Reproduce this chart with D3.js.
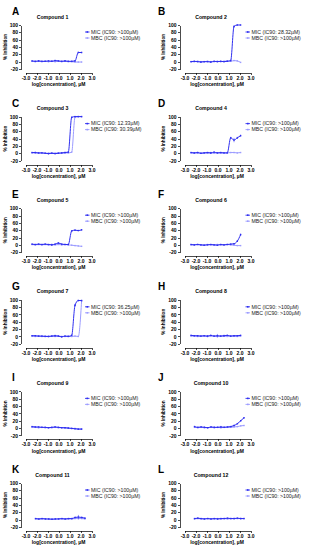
<!DOCTYPE html>
<html>
<head>
<meta charset="utf-8">
<script src="https://cdnjs.cloudflare.com/ajax/libs/d3/7.8.5/d3.min.js"></script>
<style>
body { margin: 0; background: #fff; }
svg { display: block; font-family: "Liberation Sans", Arial, sans-serif; }
.axis path, .axis line { stroke: #000; stroke-width: 0.7; shape-rendering: crispEdges; }
.axis text { font-size: 5px; font-weight: bold; fill: #000; }
.letter { font-size: 10px; font-weight: bold; }
.title { font-size: 5.2px; font-weight: bold; }
.xTitle { font-size: 5px; font-weight: bold; }
.yTitle { font-size: 4.6px; font-weight: bold; }
.legendText { font-size: 5.2px; fill: #222; }
</style>
</head>
<body>
<script>
(function (){

    //pseudo-global variables
    var panelLetters = ["A", "B", "C", "D", "E", "F", "G", "H", "I", "J", "K", "L"];
    var compoundNames = ["Compound 1", "Compound 2", "Compound 3", "Compound 4", "Compound 5", "Compound 6",
        "Compound 7", "Compound 8", "Compound 9", "Compound 10", "Compound 11", "Compound 12"];
    var micLabels = ["MIC (IC90: >100µM)", "MIC (IC90: 28.32µM)", "MIC (IC90: 12.33µM)", "MIC (IC90: >100µM)",
        "MIC (IC90: >100µM)", "MIC (IC90: >100µM)", "MIC (IC90: 36.25µM)", "MIC (IC90: >100µM)",
        "MIC (IC90: >100µM)", "MIC (IC90: >100µM)", "MIC (IC90: >100µM)", "MIC (IC90: >100µM)"];
    var mbcLabels = ["MBC (IC90: >100µM)", "MBC (IC90: >100µM)", "MBC (IC90: 30.39µM)", "MBC (IC90: >100µM)",
        "MBC (IC90: >100µM)", "MBC (IC90: >100µM)", "MBC (IC90: >100µM)", "MBC (IC90: >100µM)",
        "MBC (IC90: >100µM)", "MBC (IC90: >100µM)", "MBC (IC90: >100µM)", "MBC (IC90: >100µM)"];

    var yTicks = [100, 80, 60, 40, 20, 0, -20];
    var xTicks = [-3, -2, -1, 0, 1, 2, 3];

    //log concentrations (µM), two dilution series
    var logConcLow = [-2.41, -2.11, -1.81, -1.51, -1.21, -0.91, -0.61, -0.31, -0.01, 0.29, 0.59, 0.89, 1.20, 1.50, 1.80, 2.10];
    var logConcHigh = [-2.09, -1.79, -1.49, -1.19, -0.89, -0.59, -0.29, 0.01, 0.31, 0.61, 0.91, 1.21, 1.51, 1.81, 2.11, 2.41];
    var concSeries = [0, 0, 0, 0, 0, 0, 0, 0, 0, 1, 1, 1];

    //% inhibition, MIC
    var micValues = [
        [2, 1, 2, 1, 1, 2, 1, 3, 2, 1, 2, 1, 1, 2, 25, 25],
        [0, 1, 0, -1, 0, 0, -1, 1, 0, 1, 0, 1, 3, 96, 100, 100],
        [2, 2, 1, 1, 0, -1, 0, -1, 0, 1, 2, 3, 98, 100, 100, 100],
        [2, 1, 2, 0, 1, 2, 1, 3, 1, 2, 1, 1, 42, 36, 42, 48],
        [2, 1, 2, 1, 2, 1, 0, 2, 5, 2, 1, 1, 38, 40, 39, 41],
        [1, 0, 1, 0, -1, 0, 1, 0, -1, 1, 0, 1, 2, 3, 10, 28],
        [2, 2, 1, 1, 0, 0, 1, 2, 1, -1, 1, 0, 3, 85, 98, 98],
        [3, 2, 2, 1, 2, 1, 3, 1, 2, 1, 2, 3, 1, 2, 2, 3],
        [4, 3, 3, 2, 2, 1, 2, 3, 2, 1, 1, 0, -1, -2, -3, -3],
        [4, 2, 3, 2, 1, 3, 2, 2, 3, 2, 3, 4, 7, 12, 20, 28],
        [3, 2, 3, 2, 2, 1, 2, 2, 3, 2, 3, 3, 6, 7, 6, 4],
        [3, 4, 3, 2, 3, 2, 3, 2, 3, 3, 4, 3, 3, 4, 3, 3]
    ];
    var micErrors = [
        [1, 1, 2, 1, 1, 1, 2, 2, 1, 1, 2, 1, 1, 2, 2, 2],
        [1, 1, 1, 2, 1, 1, 2, 1, 1, 1, 1, 1, 2, 3, 1, 1],
        [1, 2, 1, 1, 1, 2, 1, 1, 1, 1, 2, 1, 2, 1, 1, 1],
        [1, 1, 2, 1, 1, 1, 3, 1, 1, 1, 1, 1, 3, 6, 3, 3],
        [1, 1, 1, 1, 1, 1, 3, 1, 2, 1, 1, 1, 2, 2, 1, 2],
        [1, 1, 1, 1, 1, 1, 1, 1, 1, 1, 1, 1, 1, 2, 2, 3],
        [1, 1, 1, 1, 1, 2, 1, 3, 1, 1, 1, 1, 2, 4, 2, 2],
        [1, 1, 2, 1, 1, 3, 1, 1, 5, 1, 3, 1, 1, 2, 1, 1],
        [1, 1, 1, 1, 1, 1, 1, 1, 1, 1, 1, 1, 1, 1, 1, 1],
        [2, 1, 1, 2, 1, 1, 2, 1, 3, 1, 1, 1, 2, 2, 2, 2],
        [1, 1, 1, 1, 1, 1, 1, 1, 1, 1, 1, 1, 2, 6, 2, 2],
        [1, 2, 1, 1, 1, 1, 1, 2, 1, 1, 1, 1, 2, 1, 2, 1]
    ];

    //% inhibition, MBC
    var mbcValues = [
        [1, 0, 1, 0, 1, 0, 1, 0, 1, 0, 1, 0, 0, -1, -1, -1],
        [0, 0, 1, 0, 0, 1, 0, 0, 1, 0, 1, 2, 1, 3, 2, -2],
        [1, 1, 0, 1, 0, 0, 1, 0, 1, 0, 1, 1, 3, 98, 100, 100],
        [1, 0, 1, 0, 1, 0, 1, 0, 1, 0, 1, 1, 2, 2, 1, 2],
        [1, 0, 1, 0, 1, 0, 1, 0, 1, 0, 1, 0, -1, -2, -3, -4],
        [0, 0, 1, 0, 0, 1, 0, 0, 1, 0, 0, 1, 0, -1, -2, -2],
        [1, 0, 1, 0, 1, 0, 1, 0, 1, 0, 0, 1, 0, 1, 0, 97],
        [1, 1, 0, 1, 1, 0, 1, 1, 0, 1, 1, 0, 1, 1, 0, 1],
        [2, 2, 1, 2, 1, 1, 1, 2, 1, 1, 0, 0, -1, -1, -2, -2],
        [2, 1, 2, 1, 1, 2, 1, 2, 1, 2, 2, 2, 3, 4, 6, 7],
        [2, 1, 2, 2, 1, 2, 1, 2, 2, 1, 2, 2, 3, 3, 3, 2],
        [2, 3, 2, 2, 3, 2, 2, 3, 2, 3, 2, 3, 3, 3, 3, 3]
    ];

    var micColor = "#2f2ff0",
        mbcColor = "#9c9cff";

    //begin script when window loads
    window.onload = setPage();

    function setPage(){
        var width = 312,
            height = 550;

        var svg = d3.select("body")
            .append("svg")
            .attr("width", width)
            .attr("height", height);

        for (var i=0; i<panelLetters.length; i++){
            setPanel(svg, i);
        };
    };

    function setPanel(svg, i){
        var col = i % 2,
            row = Math.floor(i / 2),
            ox = col == 0 ? 0 : 158.5,
            oy = row * 91.6;

        var g = svg.append("g")
            .attr("transform", "translate(" + ox + "," + oy + ")");

        //scales
        var xScale = d3.scaleLinear()
            .domain([-3, 3])
            .range([25.5 + col * 0.5, 91.5 + col * 0.5]);

        var yScale = d3.scaleLinear()
            .domain([-20, 100])
            .range([69, 25]);

        //panel letter and title
        g.append("text")
            .attr("class", "letter")
            .attr("x", col == 0 ? 12 : -0.5)
            .attr("y", 15)
            .text(panelLetters[i]);

        g.append("text")
            .attr("class", "title")
            .attr("x", 52.5)
            .attr("y", 18.5)
            .attr("text-anchor", "middle")
            .text(compoundNames[i]);

        //axes
        var yAxis = d3.axisLeft(yScale)
            .tickValues(yTicks)
            .tickSize(2)
            .tickSizeOuter(0)
            .tickPadding(1)
            .tickFormat(function(d){ return String(d); });

        g.append("g")
            .attr("class", "axis")
            .attr("transform", "translate(21,0)")
            .call(yAxis);

        var xAxis = d3.axisBottom(xScale)
            .tickValues(xTicks)
            .tickSize(2)
            .tickSizeOuter(0)
            .tickPadding(1.5)
            .tickFormat(function(d){ return d.toFixed(1); });

        g.append("g")
            .attr("class", "axis")
            .attr("transform", "translate(0,73)")
            .call(xAxis);

        g.append("text")
            .attr("class", "xTitle")
            .attr("x", 58.5)
            .attr("y", 86.3)
            .attr("text-anchor", "middle")
            .text("log[concentration], µM");

        g.append("text")
            .attr("class", "yTitle")
            .attr("transform", "translate(" + (col == 0 ? 7 : 6) + ",47) rotate(-90)")
            .attr("text-anchor", "middle")
            .text("% Inhibition");

        //data series
        var conc = concSeries[i] == 0 ? logConcLow : logConcHigh;
        drawSeries(g, conc, mbcValues[i], null, mbcColor, xScale, yScale);
        drawSeries(g, conc, micValues[i], micErrors[i], micColor, xScale, yScale);

        //legend
        var legendX = col == 0 ? 85 : 87;
        var labels = [micLabels[i], mbcLabels[i]],
            colors = [micColor, mbcColor];
        for (var k=0; k<2; k++){
            var ly = 32 + k * 6;
            g.append("line")
                .attr("x1", legendX)
                .attr("x2", legendX + 4.5)
                .attr("y1", ly)
                .attr("y2", ly)
                .attr("stroke", colors[k])
                .attr("stroke-width", 0.9);
            g.append("rect")
                .attr("x", legendX + 1.5)
                .attr("y", ly - 0.8)
                .attr("width", 1.6)
                .attr("height", 1.6)
                .attr("fill", colors[k]);
            g.append("text")
                .attr("class", "legendText")
                .attr("x", legendX + 6)
                .attr("y", ly + 1.8)
                .text(labels[k]);
        };
    };

    function drawSeries(g, conc, values, errors, color, xScale, yScale){
        var points = conc.map(function(c, j){
            return { x: c, y: values[j], e: errors ? errors[j] : 0 };
        });

        var line = d3.line()
            .x(function(d){ return xScale(d.x); })
            .y(function(d){ return yScale(d.y); })
            .curve(d3.curveMonotoneX);

        g.append("path")
            .datum(points)
            .attr("d", line)
            .attr("fill", "none")
            .attr("stroke", color)
            .attr("stroke-width", 1);

        //error bars
        g.selectAll(null)
            .data(points.filter(function(d){ return d.e > 1; }))
            .enter()
            .append("line")
            .attr("x1", function(d){ return xScale(d.x); })
            .attr("x2", function(d){ return xScale(d.x); })
            .attr("y1", function(d){ return yScale(d.y - d.e); })
            .attr("y2", function(d){ return yScale(d.y + d.e); })
            .attr("stroke", color)
            .attr("stroke-width", 0.5);

        //markers
        g.selectAll(null)
            .data(points)
            .enter()
            .append("rect")
            .attr("x", function(d){ return xScale(d.x) - 0.7; })
            .attr("y", function(d){ return yScale(d.y) - 0.7; })
            .attr("width", 1.4)
            .attr("height", 1.4)
            .attr("fill", color);
    };

})();
</script>
</body>
</html>
